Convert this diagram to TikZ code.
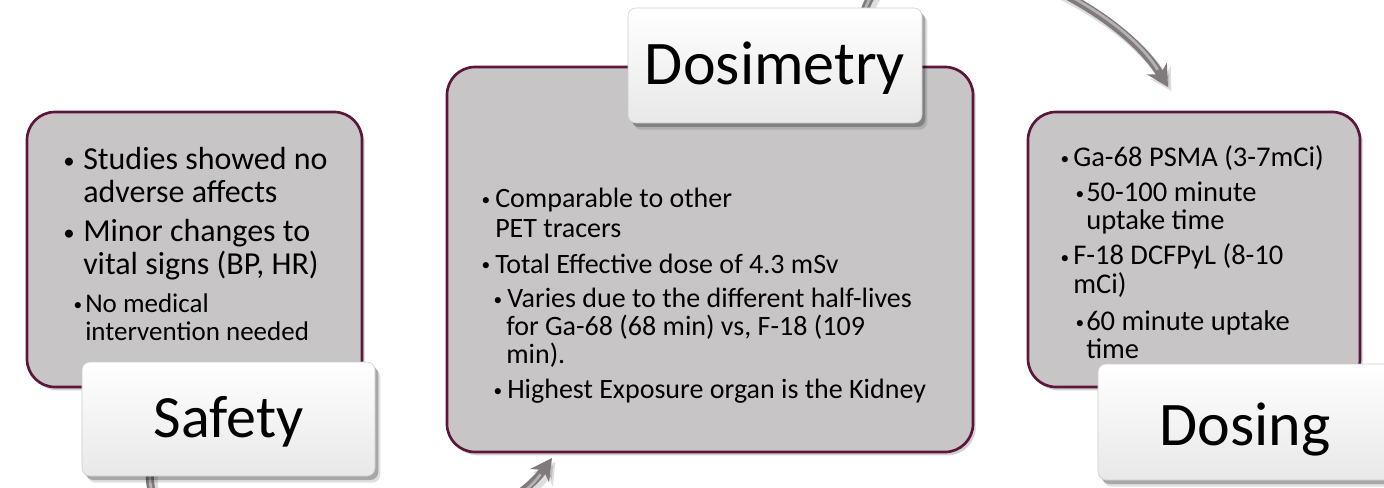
\documentclass[tikz,border=0pt]{standalone}
\usepackage{fontspec}
\setmainfont{Carlito}
\usetikzlibrary{arrows.meta,shadows}
\definecolor{boxfill}{RGB}{200,197,199}
\definecolor{boxline}{RGB}{92,22,60}
\definecolor{arrowgray}{RGB}{128,122,125}
\definecolor{arrowlight}{RGB}{182,177,180}
\begin{document}
\begin{tikzpicture}[x=0.75pt,y=-0.75pt,
  contentbox/.style={draw=boxline, line width=2pt, fill=boxfill, rounded corners=21pt,
    inner sep=0pt, general shadow={shadow xshift=2pt, shadow yshift=-2.5pt, fill=black, opacity=.18}},
  labelbox/.style={rounded corners=6pt, top color=white, bottom color=gray!18, draw=gray!40,
    line width=.4pt, inner sep=0pt,
    general shadow={shadow xshift=4pt, shadow yshift=-5pt, fill=black, opacity=.12},
    general shadow={shadow xshift=2.5pt, shadow yshift=-3pt, fill=black, opacity=.25}},
  labeltext/.style={anchor=base, inner sep=0pt, font=\fontsize{46.5pt}{50pt}\selectfont},
  sa/.style={anchor=base west, inner sep=0pt, font=\fontsize{24pt}{28pt}\selectfont},
  sb/.style={anchor=base west, inner sep=0pt, font=\fontsize{20.25pt}{24pt}\selectfont},
  da/.style={anchor=base west, inner sep=0pt, font=\fontsize{21pt}{25pt}\selectfont},
  ga/.style={anchor=base west, inner sep=0pt, font=\fontsize{21.4pt}{25pt}\selectfont},
  bula/.style={anchor=base, inner sep=0pt, font=\fontsize{17pt}{18pt}\selectfont},
  bulb/.style={anchor=base, inner sep=0pt, font=\fontsize{13pt}{14pt}\selectfont},
  arrowshadow/.style={line width=7pt, draw=black, opacity=.13,
    -{Stealth[length=16pt,width=18pt,inset=5pt]}},
  arrowmain/.style={line width=6pt, draw=arrowgray,
    -{Stealth[length=16pt,width=17pt,inset=5pt,fill=arrowgray]}},
  arrowhi/.style={line width=2pt, draw=arrowlight, shorten >=15pt}
]
\useasboundingbox (0,0) rectangle (1384,488);
\clip (0,0) rectangle (1384,488);
\fill[white] (0,0) rectangle (1384,488);

% cycle arrows (partly outside the frame)
\coordinate (aStart) at (150,470);
\coordinate (aC1) at (140,600);
\coordinate (aC2) at (480,560);
\coordinate (aEnd) at (552,458);
\coordinate (bStart) at (860,30);
\coordinate (bC1) at (880,-110);
\coordinate (bC2) at (1110,-10);
\coordinate (bEnd) at (1168,87);

\begin{scope}[transform canvas={shift={(2.5pt,-3pt)}}]
\draw[arrowshadow] (aStart) .. controls (aC1) and (aC2) .. (aEnd);
\draw[arrowshadow] (bStart) .. controls (bC1) and (bC2) .. (bEnd);
\end{scope}
\draw[arrowmain] (aStart) .. controls (aC1) and (aC2) .. (aEnd);
\draw[arrowhi] (aStart) .. controls (aC1) and (aC2) .. (aEnd);
\draw[arrowmain] (bStart) .. controls (bC1) and (bC2) .. (bEnd);
\draw[arrowhi] (bStart) .. controls (bC1) and (bC2) .. (bEnd);

% content boxes
\node[contentbox, minimum width=251.25pt, minimum height=206.25pt] (safetybox) at (194.5,249.5) {};
\node[contentbox, minimum width=394.5pt, minimum height=288.75pt] (dosimbox) at (710,259.5) {};
\node[contentbox, minimum width=249pt, minimum height=206.25pt] (dosingbox) at (1194,249.5) {};

% Safety text
\node[bula] (s1b) at (69,169) {•};
\node[sa] (s1) at (83,170) {Studies showed no};
\node[sa] (s1c) at (83,203) {adverse affects};
\node[bula] (s2b) at (69,241) {•};
\node[sa] (s2) at (83,242) {Minor changes to};
\node[sa] (s2c) at (83,275) {vital signs (BP, HR)};
\node[bulb] (s3b) at (78,310) {•};
\node[sb] (s3) at (85,312) {No medical};
\node[sb] (s3c) at (85,340) {intervention needed};

% Dosimetry text
\node[bulb] (d1b) at (486,206) {•};
\node[da] (d1) at (495,208) {Comparable to other};
\node[da] (d1c) at (495,238) {PET tracers};
\node[bulb] (d2b) at (486,271) {•};
\node[da] (d2) at (495,273) {Total Effective dose of 4.3 mSv};
\node[bulb] (d3b) at (498,305) {•};
\node[da] (d3) at (507,307) {Varies due to the different half-lives};
\node[da] (d3c) at (506,335) {for Ga-68 (68 min) vs, F-18 (109};
\node[da] (d3d) at (506,363) {min).};
\node[bulb] (d4b) at (498,396) {•};
\node[da] (d4) at (507,398) {Highest Exposure organ is the Kidney};

% Dosing text
\node[bulb] (g1b) at (1065,165) {•};
\node[ga] (g1) at (1073,167) {Ga-68 PSMA (3-7mCi)};
\node[bulb] (g2b) at (1080,200) {•};
\node[ga] (g2) at (1086,202) {50-100 minute};
\node[ga] (g2c) at (1086,230) {uptake time};
\node[bulb] (g3b) at (1065,263) {•};
\node[ga] (g3) at (1073,265) {F-18 DCFPyL (8-10};
\node[ga] (g3c) at (1073,293) {mCi)};
\node[bulb] (g4b) at (1080,328) {•};
\node[ga] (g4) at (1086,330) {60 minute uptake};
\node[ga] (g4c) at (1086,358) {time};

% labels
\node[labelbox, minimum width=219.75pt, minimum height=85.5pt] (safetylbl) at (228.5,419) {};
\node[labeltext, font=\fontsize{45pt}{50pt}\selectfont] (safetytxt) at (228.5,437) {Safety};
\node[labelbox, minimum width=220.5pt, minimum height=86.25pt] (dosimlbl) at (775,65.5) {};
\node[labeltext] (dosimtxt) at (775,85) {Dosimetry};
\node[labelbox, minimum width=220.5pt, minimum height=87pt] (dosinglbl) at (1245,422) {};
\node[labeltext] (dosingtxt) at (1245,445) {Dosing};
\end{tikzpicture}
\end{document}
